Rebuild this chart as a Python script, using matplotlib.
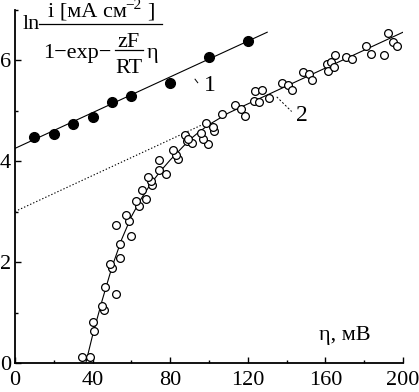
import numpy as np
import matplotlib
matplotlib.use("Agg")
import matplotlib.pyplot as plt
from matplotlib.ticker import MultipleLocator

plt.rcParams['font.family'] = ['Liberation Serif', 'DejaVu Serif']

# series 1 (filled circles)
eta1 = [10, 20, 30, 40, 50, 60, 80, 100, 120]
ln1 = [4.47, 4.53, 4.73, 4.87, 5.17, 5.29, 5.54, 6.06, 6.38]
fit1_x = [0, 130]
fit1_y = [4.25, 6.55]

# series 2 (open circles)
eta2 = [34.4, 38.7, 40.9, 40.4, 45.7, 44.8, 51.9, 46.4, 50.2, 48.8, 54.1,
        54.0, 60.0, 52.2, 58.8, 57.2, 64.1, 62.4, 67.4, 65.6, 70.8, 70.1, 68.4,
        78.0, 74.4, 74.4, 84.0, 82.8, 81.4, 88.5, 87.6, 91.4, 89.3, 99.3, 97.1,
        95.9, 98.3, 102.6, 102.2, 106.9, 113.4, 116.3, 118.7, 123.5, 127.2,
        123.2, 125.8, 130.9, 137.6, 140.5, 142.9, 148.3, 151.4, 153.1, 160.7,
        162.9, 161.5, 164.3, 165.1, 170.6, 173.9, 180.8, 183.4, 190.2, 192.4,
        194.8, 196.8]
ln2 = [0.11, 0.12, 0.63, 0.81, 1.04, 1.13, 1.36, 1.51, 1.88, 1.97, 2.08,
       2.36, 2.51, 2.74, 2.82, 2.93, 3.10, 3.21, 3.25, 3.42, 3.52, 3.61, 3.68,
       3.74, 3.82, 4.01, 4.03, 4.11, 4.22, 4.40, 4.51, 4.36, 4.44, 4.34, 4.43,
       4.55, 4.76, 4.60, 4.68, 4.93, 5.10, 5.02, 4.90, 5.38, 5.40,
       5.19, 5.17, 5.25, 5.55, 5.50, 5.40, 5.76, 5.72, 5.60, 5.93,
       5.97, 5.79, 5.86, 6.10, 6.05, 6.01, 6.28, 6.12, 6.10, 6.54,
       6.36, 6.28]
fit2_x = [36.5, 40, 45, 50, 55, 60, 65, 70, 75, 80, 85, 90, 95, 100, 110, 120, 200]
fit2_y = [0.0, 0.55, 1.25, 1.9, 2.45, 2.9, 3.25, 3.55, 3.8, 4.02, 4.22, 4.42,
          4.58, 4.72, 4.95, 5.13, 6.55]
extr_x = [0, 100]
extr_y = [3.0, 4.78]

xticks = [0, 40, 80, 120, 160, 200]
yticks = [0, 2, 4, 6]

W, H = 419, 392
fig = plt.figure(figsize=(W / 100, H / 100), dpi=100)
ax = fig.add_axes([15 / W, 1 - 363 / H, (403 - 15) / W, (363 - 9.5) / H])

ax.plot(fit1_x, fit1_y, color='black', lw=0.8)
ax.plot(eta1, ln1, 'o', color='black', ms=7)
ax.plot(fit2_x, fit2_y, color='black', lw=0.8)
ax.plot(extr_x, extr_y, color='black', lw=0.8, linestyle=(0, (1.2, 1.8)))
ax.plot(eta2, ln2, 'o', mfc='white', mec='black', mew=0.9, ms=5.6)

# curve labels
ax.plot([92.8, 94.2], [5.62, 5.55], color='black', lw=0.7)
ax.text(100.5, 5.49, '1', fontsize=17, ha='center', va='center')
ax.plot([134.9, 142.6], [5.27, 4.98], color='black', lw=0.7, linestyle=(0, (2, 2)))
ax.text(147.8, 4.91, '2', fontsize=17, ha='center', va='center')

ax.text(170, 0.46, 'η, мВ', fontsize=16, ha='center', va='baseline')

ax.set_xlim(0, 200)
ax.set_ylim(0, 7)
ax.set_xticks(xticks)
ax.set_yticks(yticks)
ax.xaxis.set_minor_locator(MultipleLocator(20))
ax.yaxis.set_minor_locator(MultipleLocator(1))
ax.tick_params(which='both', direction='in', width=1.0, labelsize=16)
ax.tick_params(which='major', length=4.5)
ax.tick_params(which='minor', length=2.5)
ax.tick_params(axis='x', pad=6)
ax.tick_params(axis='y', pad=3)
for s in ['top', 'right']:
    ax.spines[s].set_visible(False)
for s in ['left', 'bottom']:
    ax.spines[s].set_linewidth(1.3)


# y label formula, placed by pixel position
def ftext(x, y, s, size=16, **kw):
    fig.text(x / W, 1 - y / H, s, fontsize=size, va='baseline', **kw)


def fbar(x0, x1, y):
    fig.add_artist(plt.Line2D([x0 / W, x1 / W], [1 - y / H, 1 - y / H],
                              color='black', lw=0.9))


ftext(23, 29, 'ln')
ftext(48, 17, 'i [мА см')
ftext(125, 9, '−2', size=11)
ftext(147, 17, ']')
fbar(39, 162, 24)
ftext(43, 58, '1−exp−')
ftext(128, 47, 'zF', ha='center')
fbar(115, 143, 50)
ftext(128.5, 73, 'RT', ha='center')
ftext(147, 58, 'η')

plt.savefig('out.png', dpi=100)
